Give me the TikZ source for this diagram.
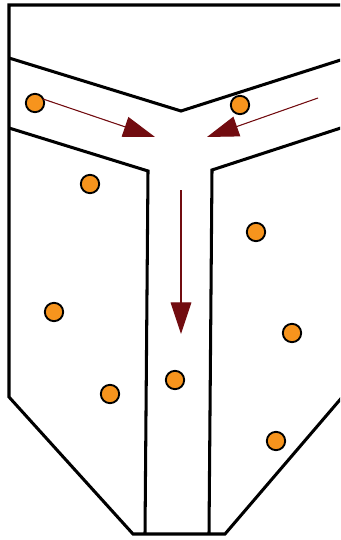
\documentclass[tikz,border=0pt]{standalone}
\usepackage{xcolor}
\usetikzlibrary{arrows.meta}
\definecolor{grain}{HTML}{F7941D}
\definecolor{flowred}{HTML}{720C10}

\begin{document}
\begin{tikzpicture}[
  x=0.03cm, y=-0.03cm,
  wall/.style={line width=2.6pt, line join=miter},
  grainnode/.style={circle, draw, fill=grain, line width=1.6pt, minimum size=0.55cm, inner sep=0pt},
  flow/.style={-{Triangle[length=0.95cm, width=0.62cm]}, draw=flowred, fill=flowred, line width=0.9pt},
]
\useasboundingbox (0,0) rectangle (340,540);
\clip (0,0) rectangle (340,540);

% Outer vessel
\draw[wall] (350,5) -- (9,5) -- (9,397) -- (133,534) -- (225,534) -- (350,388);

% Channel walls
\draw[wall] (9,58) -- (181,111) -- (350,57);
\draw[wall] (9,128) -- (148,171) -- (145,534);
\draw[wall] (350,125) -- (212,170) -- (209,534);

% Particles
\node[grainnode] (p1) at (35,103) {};
\node[grainnode] (p2) at (240,105) {};
\node[grainnode] (p3) at (90,184) {};
\node[grainnode] (p4) at (256,232) {};
\node[grainnode] (p5) at (54,312) {};
\node[grainnode] (p6) at (292,333) {};
\node[grainnode] (p7) at (175,380) {};
\node[grainnode] (p8) at (110,394) {};
\node[grainnode] (p9) at (276,441) {};

% Flow arrows
\coordinate (inL) at (43,99);
\coordinate (tipL) at (155,137);
\coordinate (inR) at (318,98);
\coordinate (tipR) at (207,137);
\coordinate (inD) at (181,190);
\coordinate (tipD) at (181,334);

\draw[flow] (inL) -- (tipL);
\draw[flow] (inR) -- (tipR);
\draw[flow] (inD) -- (tipD);

\end{tikzpicture}
\end{document}
